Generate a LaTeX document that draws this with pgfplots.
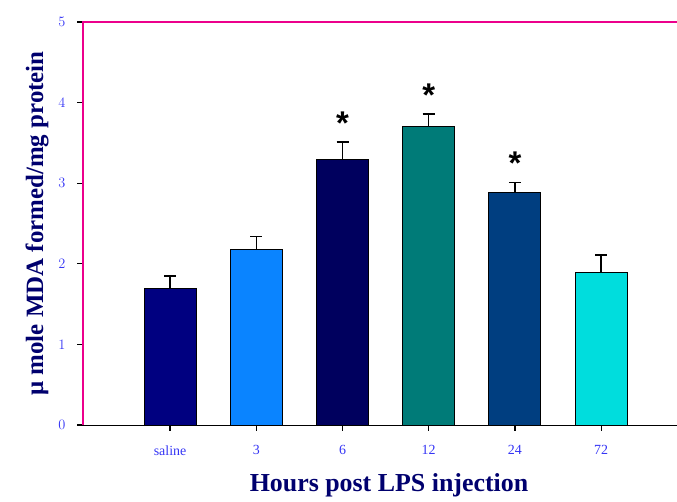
\documentclass[border=0pt]{standalone}
\usepackage{pgfplots}
\pgfplotsset{compat=1.18}
\usepackage{fontspec}
\setmainfont{Liberation Serif}
\newfontfamily\sansb{Liberation Sans}
\definecolor{c1}{HTML}{000080}
\definecolor{c2}{HTML}{0A84FF}
\definecolor{c3}{HTML}{00005E}
\definecolor{c4}{HTML}{007B78}
\definecolor{c5}{HTML}{003E80}
\definecolor{c6}{HTML}{00DDDD}
\definecolor{tickblue}{HTML}{3535F5}
\definecolor{labnavy}{HTML}{00006E}
\pgfplotsset{
  mybar/.style={ybar, bar width=52bp, bar shift=0pt, draw=black, line width=1pt,
    /pgfplots/error bars/y dir=plus, /pgfplots/error bars/y explicit,
    /pgfplots/error bars/error bar style={black, line width=1.3pt},
    /pgfplots/error bars/error mark options={black, line width=1.3pt, rotate=90, mark size=6bp}},
}
\begin{document}
\begin{tikzpicture}
\begin{axis}[
  scale only axis,
  width=594bp, height=403bp,
  xmin=-1.01, xmax=5.88,
  ymin=0, ymax=5,
  axis line style={draw=none},
  xtick pos=bottom, ytick pos=left,
  xtick={0,1,2,3,4,5},
  xticklabels={saline,3,6,12,24,72},
  ytick={0,1,2,3,4,5},
  major tick length=0pt,
  xticklabel style={tickblue, font=\fontsize{14}{14}\selectfont, yshift=-17bp},
  yticklabel style={tickblue, font=\fontsize{14}{14}\selectfont, xshift=-14bp},
  xlabel={Hours post LPS injection},
  ylabel={μ mole MDA formed/mg protein},
  xlabel style={labnavy, font=\fontsize{26}{26}\selectfont\bfseries, yshift=-11bp, xshift=9bp},
  ylabel style={labnavy, font=\fontsize{25}{25}\selectfont\bfseries, yshift=3bp},
  clip=false,
]
\addplot[mybar, fill=c1] coordinates {(0,1.69) +- (0,0.16)};
\addplot[mybar, fill=c2] coordinates {(1,2.18) +- (0,0.16)};
\addplot[mybar, fill=c3] coordinates {(2,3.30) +- (0,0.21)};
\addplot[mybar, fill=c4] coordinates {(3,3.70) +- (0,0.16)};
\addplot[mybar, fill=c5] coordinates {(4,2.88) +- (0,0.13)};
\addplot[mybar, fill=c6] coordinates {(5,1.89) +- (0,0.22)};
\node[font=\sansb\bfseries\fontsize{33}{33}\selectfont, anchor=south, inner sep=0pt] at (axis cs:2,3.60) {*};
\node[font=\sansb\bfseries\fontsize{33}{33}\selectfont, anchor=south, inner sep=0pt] at (axis cs:3,3.95) {*};
\node[font=\sansb\bfseries\fontsize{33}{33}\selectfont, anchor=south, inner sep=0pt] at (axis cs:4,3.10) {*};
\end{axis}
\foreach \i in {0,...,5} {
  \draw[black, line width=1.2pt] ({(1.01+\i)*86.212bp},0) -- ({(1.01+\i)*86.212bp},-6bp);
  \draw[black, line width=1.2pt] (0,{\i*80.6bp}) -- (-6bp,{\i*80.6bp});
}
\draw[magenta, line width=1.2pt] (0,0) -- (0,403bp) -- (594bp,403bp);
\draw[black, line width=1pt] (-6bp,0) -- (594bp,0);
\pgfresetboundingbox
\path[use as bounding box] (-83bp,-77bp) rectangle (594bp,425bp);
\end{tikzpicture}
\end{document}
